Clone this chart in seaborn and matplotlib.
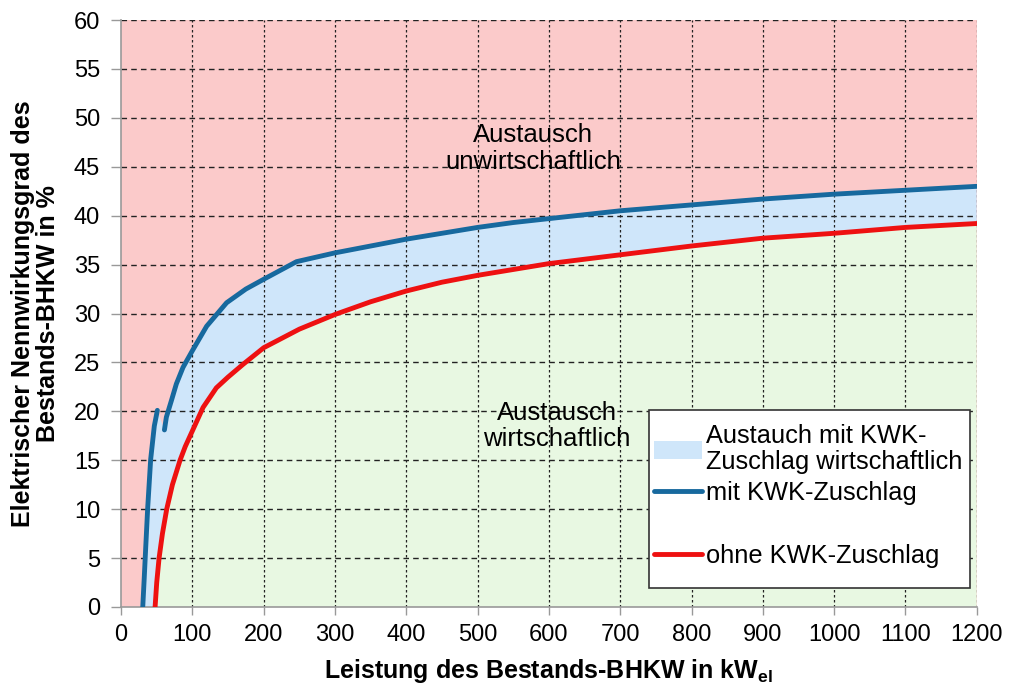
import matplotlib
matplotlib.use("Agg")
import matplotlib.pyplot as plt
import seaborn as sns
import pandas as pd
from matplotlib.patches import Patch, Rectangle
from matplotlib.lines import Line2D

# Data
blue_x1 = [30.4, 32.5, 34.5, 37.3, 41.5, 46.6, 50.9]
blue_y1 = [0.0, 3.0, 6.0, 10.1, 15.1, 18.5, 20.1]
blue_x2 = [60.8, 63.5, 71, 77.5, 86.9, 100, 120, 148, 175, 200, 246, 300, 350, 400,
           450, 500, 550, 600, 700, 800, 900, 1000, 1100, 1200]
blue_y2 = [18.1, 19.4, 21.2, 22.8, 24.5, 26.2, 28.7, 31.1, 32.5, 33.5, 35.3, 36.2,
           36.9, 37.6, 38.2, 38.8, 39.3, 39.7, 40.5, 41.1, 41.7, 42.2, 42.6, 43.0]
red_x = [47.7, 50, 53.3, 58, 64, 72, 82.7, 90, 100, 115, 133.6, 150, 171, 200, 250,
         300, 350, 400, 450, 500, 550, 600, 700, 800, 900, 1000, 1100, 1200]
red_y = [0.0, 2.5, 5.0, 7.5, 10.0, 12.5, 15.0, 16.4, 18.0, 20.4, 22.4, 23.5, 24.8,
         26.5, 28.4, 29.9, 31.2, 32.3, 33.2, 33.9, 34.5, 35.1, 36.0, 36.9, 37.7,
         38.2, 38.8, 39.2]
x_ticks = list(range(0, 1201, 100))
y_ticks = list(range(0, 61, 5))

sns.set_theme(style="white")
plt.rcParams['font.family'] = ['Liberation Sans', 'DejaVu Sans']
plt.rcParams['text.color'] = 'black'
plt.rcParams['axes.labelcolor'] = 'black'
plt.rcParams['xtick.color'] = 'black'
plt.rcParams['ytick.color'] = 'black'

fig = plt.figure(figsize=(10.09, 6.91), dpi=100)
ax = fig.add_axes([0.12, 0.1216, 0.848, 0.8494])

pink = "#FBCACA"
green = "#E8F8E2"
lblue = "#CFE6FA"
dblue = "#17699E"
red = "#EE1111"

ax.set_facecolor(pink)
# green region below/right of the red curve
gx = red_x + [1200]
gy = red_y + [0]
ax.fill(gx, gy, color=green, zorder=0.5, lw=0)
# blue region between blue and red curves
bx = blue_x1 + blue_x2 + red_x[::-1]
by = blue_y1 + blue_y2 + red_y[::-1]
ax.fill(bx, by, color=lblue, zorder=0.6, lw=0)

df1 = pd.DataFrame({"x": blue_x1, "y": blue_y1})
df2 = pd.DataFrame({"x": blue_x2, "y": blue_y2})
df3 = pd.DataFrame({"x": red_x, "y": red_y})
sns.lineplot(data=df1, x="x", y="y", ax=ax, color=dblue, lw=3.5, sort=False, zorder=3)
sns.lineplot(data=df2, x="x", y="y", ax=ax, color=dblue, lw=3.5, sort=False, zorder=3)
sns.lineplot(data=df3, x="x", y="y", ax=ax, color=red, lw=3.5, sort=False, zorder=3)

ax.set_xlim(0, 1200)
ax.set_ylim(0, 60)
ax.set_xticks(x_ticks)
ax.set_yticks(y_ticks)
for yv in y_ticks[1:]:
    ax.axhline(yv, color="#222222", lw=1.0, ls=(0, (4, 3)), zorder=1)
for xv in x_ticks[1:]:
    ax.axvline(xv, color="#222222", lw=0.9, ls=(0, (2, 2)), zorder=1)

for s in ["top", "right"]:
    ax.spines[s].set_visible(False)
for s in ["left", "bottom"]:
    ax.spines[s].set_color("#999999")
    ax.spines[s].set_linewidth(1.2)
ax.tick_params(axis="both", which="major", labelsize=17, width=1,
               color="#999999", labelcolor="black", direction="out",
               bottom=True, left=True)
ax.tick_params(axis="x", length=6, pad=6)
ax.tick_params(axis="y", length=7, pad=8)

ax.set_xlabel("Leistung des Bestands-BHKW in kW$_{\\mathregular{el}}$", fontsize=18,
              fontweight="bold", labelpad=8)
ax.set_ylabel("Elektrischer Nennwirkungsgrad des\nBestands-BHKW in %", fontsize=18,
              fontweight="bold", labelpad=10, linespacing=1.05)

ax.text(578, 46.9, "Austausch\nunwirtschaftlich", ha="center", va="center",
        fontsize=18.5, zorder=4, linespacing=1.15)
ax.text(611, 18.5, "Austausch\nwirtschaftlich", ha="center", va="center",
        fontsize=18.5, zorder=4, linespacing=1.15)

# legend frame (white box)
box_l, box_b, box_r, box_t = 0.617, 0.032, 0.992, 0.3356
ax.add_patch(Rectangle((box_l, box_b), box_r - box_l, box_t - box_b,
                       transform=ax.transAxes, facecolor="white",
                       edgecolor="#333333", lw=1.2, zorder=4.9))

handles = [Patch(facecolor=lblue, edgecolor="none"),
           Line2D([0], [0], color=dblue, lw=3.5),
           Line2D([], [], color="none"),
           Line2D([0], [0], color=red, lw=3.5)]
labels = ["Austauch mit KWK-\nZuschlag wirtschaftlich", "mit KWK-Zuschlag", " ",
          "ohne KWK-Zuschlag"]
leg = ax.legend(handles, labels, loc="upper left",
                bbox_to_anchor=(box_l - 0.002, box_t - 0.0135),
                fontsize=18.3, frameon=False, handlelength=1.9, handletextpad=0.16,
                borderpad=0.25, labelspacing=0.28, borderaxespad=0)
leg.set_zorder(5)
for t in leg.get_texts():
    t.set_linespacing(1.1)

fig.savefig("out.png", dpi=100)
